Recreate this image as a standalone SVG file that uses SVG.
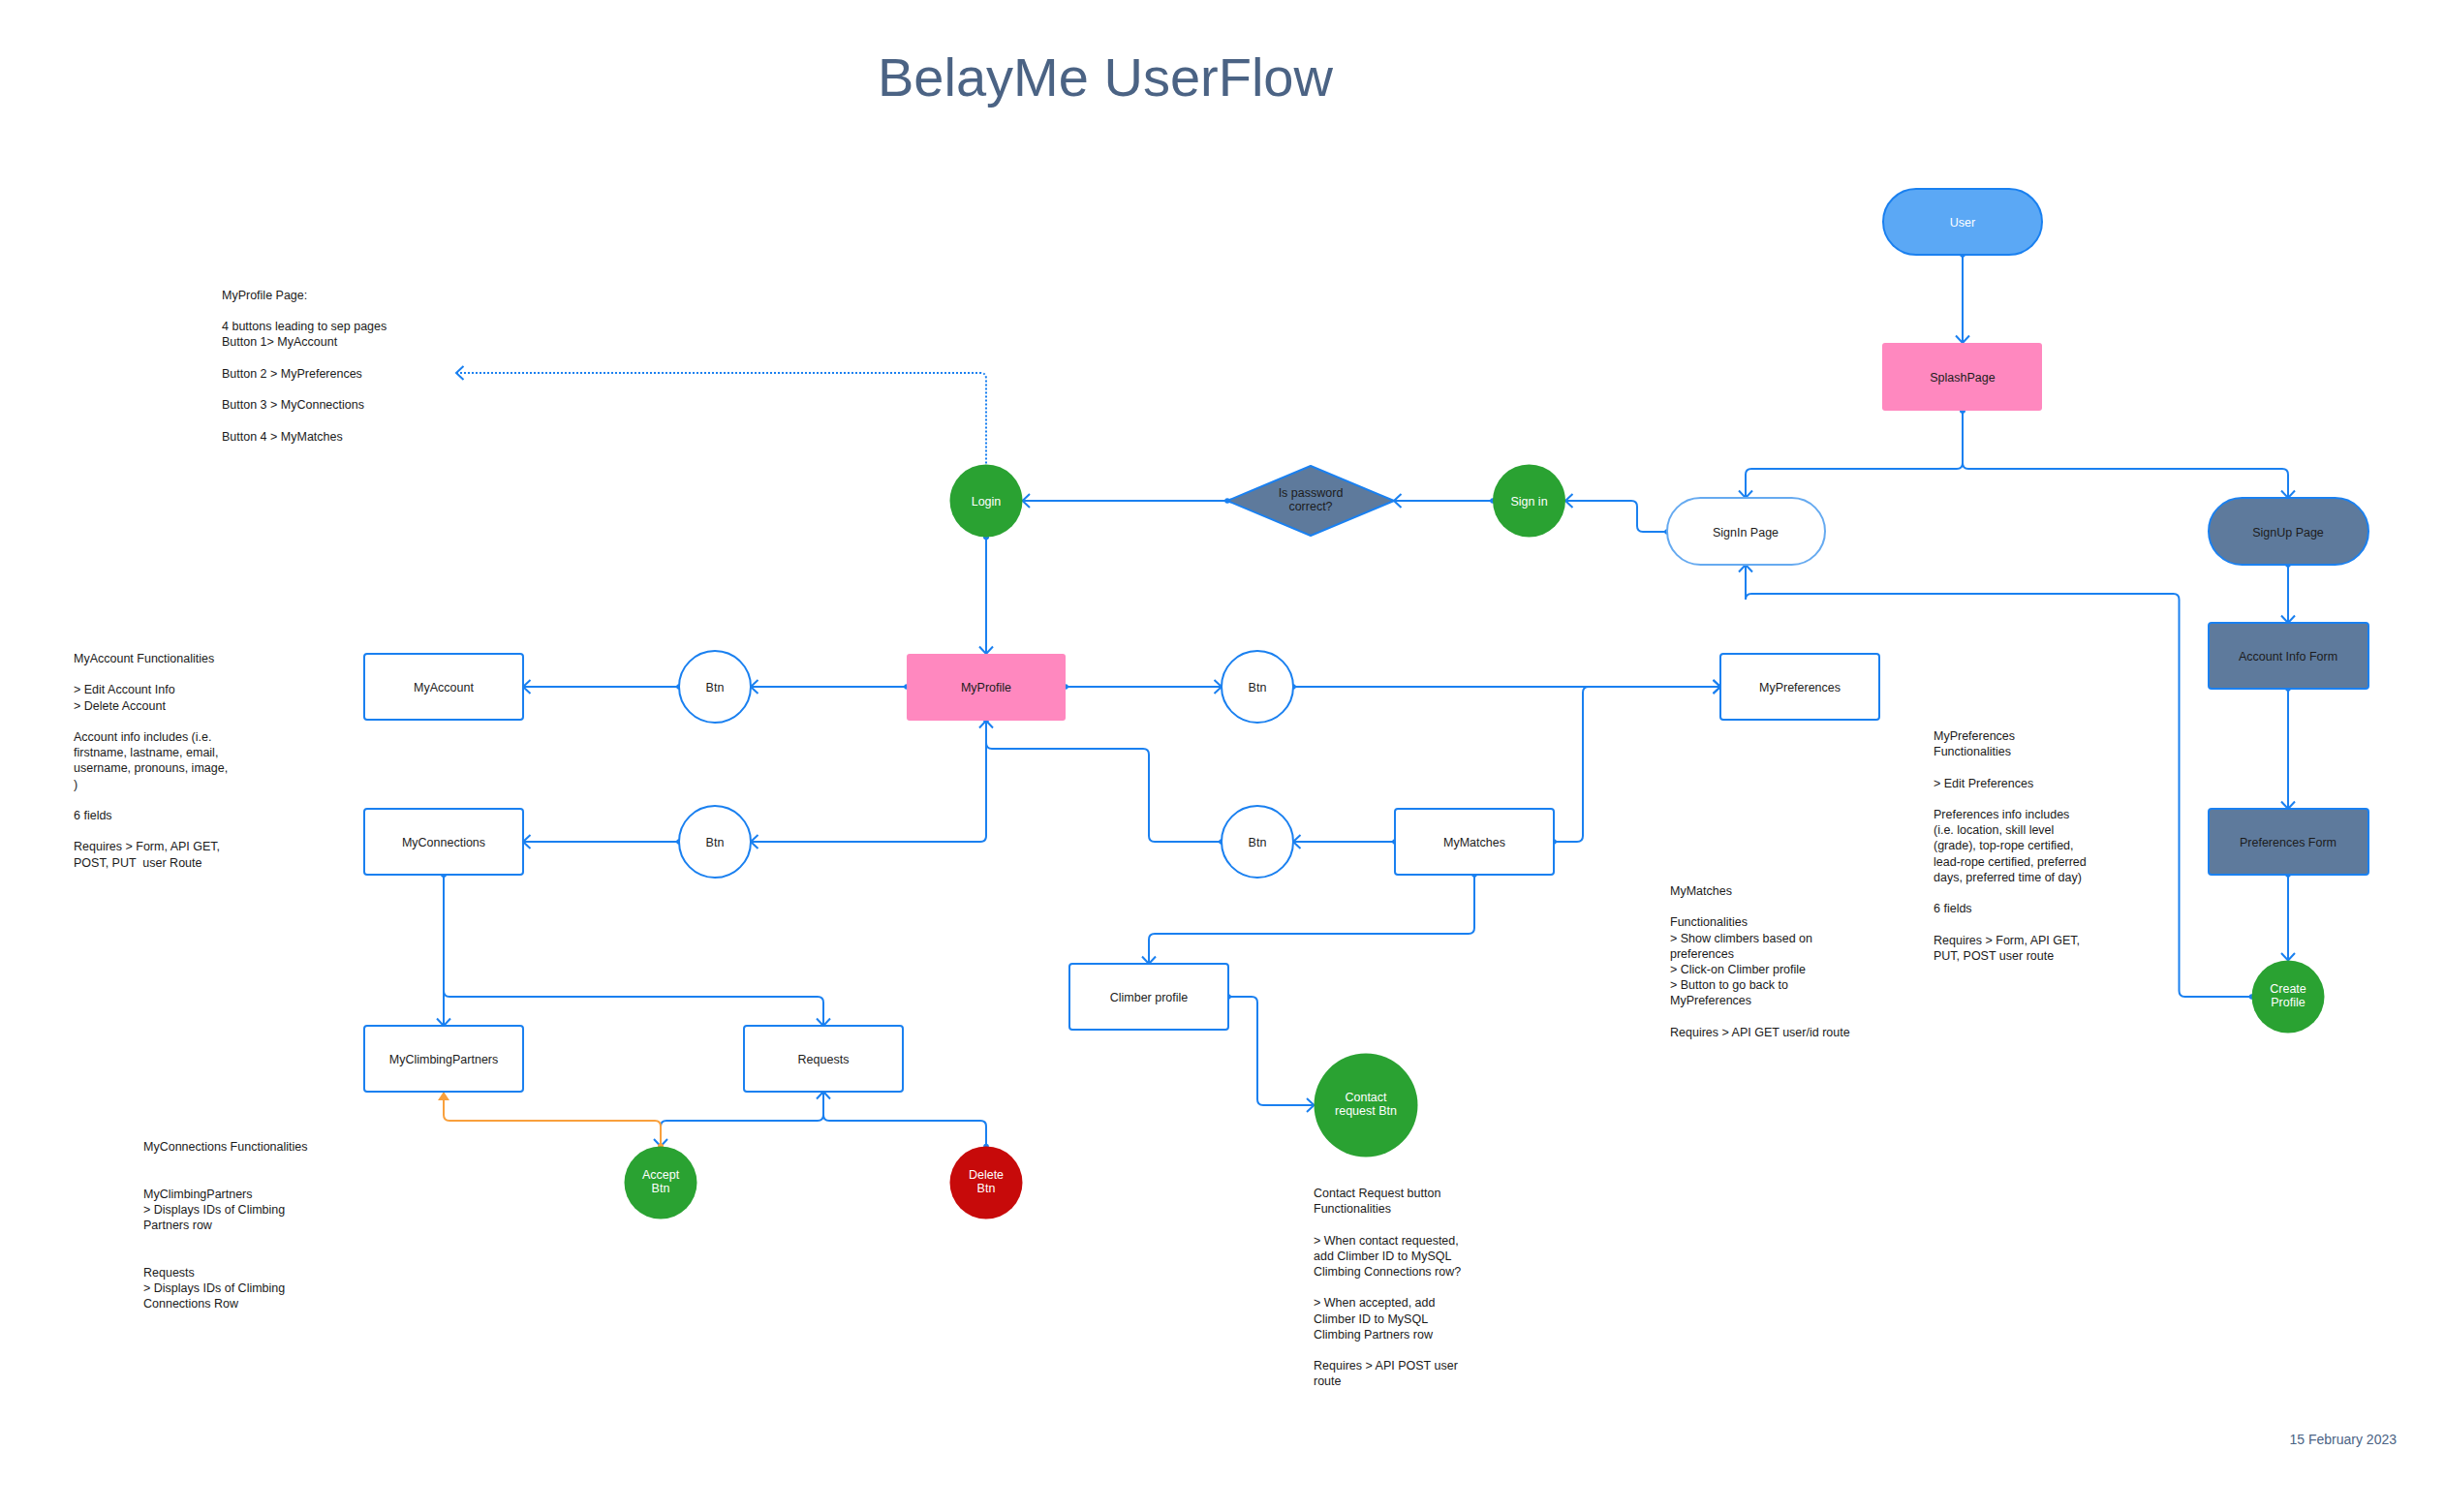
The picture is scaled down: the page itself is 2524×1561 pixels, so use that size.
<svg xmlns="http://www.w3.org/2000/svg" width="2524" height="1561" viewBox="0 0 2524 1561">
<style>
  text { font-family: "Liberation Sans", Arial, Helvetica, sans-serif; font-size: 12.5px; fill: #1c1c1c; }
  .c { text-anchor: middle; }
  .w { fill: #ffffff; }
  .note { fill: #1a1a1a; }
  .title { font-size: 56px; fill: #4b6384; }
  .date { font-size: 14px; fill: #4b6384; text-anchor: end; }
  .box { fill: #ffffff; stroke: #1a80f0; stroke-width: 2; }
  .pink { fill: #ff88bf; }
  .slate { fill: #5e7a9c; stroke: #1a80f0; stroke-width: 2; }
  .green { fill: #2aa232; }
  .red { fill: #c70a0a; }
  .conn path { fill: none; stroke: #1a80f0; stroke-width: 2; marker-start: url(#dot); marker-end: url(#arr); }
  .conn path.dotted { stroke-dasharray: 2 2; }
  .conn path.orange { stroke: #f9a03c; marker-start: url(#dotO); marker-end: url(#arrO); }
</style>
<defs>
  <marker id="arr" markerUnits="userSpaceOnUse" markerWidth="20" markerHeight="20" viewBox="0 0 20 20" refX="10" refY="10" orient="auto" overflow="visible">
    <path d="M2.5 3 L10 10 L2.5 17" fill="none" stroke="#1a80f0" stroke-width="2"/>
  </marker>
  <marker id="dot" markerUnits="userSpaceOnUse" markerWidth="10" markerHeight="10" viewBox="0 0 10 10" refX="5" refY="5" orient="auto">
    <circle cx="5" cy="5" r="2.8" fill="#1a80f0"/>
  </marker>
  <marker id="arrO" markerUnits="userSpaceOnUse" markerWidth="20" markerHeight="20" viewBox="0 0 20 20" refX="10" refY="10" orient="auto" overflow="visible">
    <path d="M1 4 L10 10 L1 16 Z" fill="#f9a03c"/>
  </marker>
  <marker id="dotO" markerUnits="userSpaceOnUse" markerWidth="10" markerHeight="10" viewBox="0 0 10 10" refX="5" refY="5" orient="auto">
    <circle cx="5" cy="5" r="3" fill="#f9a03c"/>
  </marker>
</defs>
<rect width="2524" height="1561" fill="#ffffff"/>

<text class="title" x="906" y="99">BelayMe UserFlow</text>
<text class="date" x="2474" y="1491">15 February 2023</text>

<g id="connectors" class="conn">
  <path d="M2026 263 V354"/>
  <path d="M2026 424 V478 Q2026 484 2020 484 H1808 Q1802 484 1802 490 V514"/>
  <path d="M2026 424 V478 Q2026 484 2032 484 H2356 Q2362 484 2362 490 V514"/>
  <path d="M1721 549 H1696 Q1690 549 1690 543 V523 Q1690 517 1684 517 H1616"/>
  <path d="M1541 517 H1439"/>
  <path d="M1267 517 H1055.5"/>
  <path d="M1018 554.5 V675"/>
  <path class="dotted" d="M1018 554.5 V391 Q1018 385 1012 385 H471"/>
  <path d="M936 709 H775"/>
  <path d="M701 709 H540"/>
  <path d="M1100 709 H1261"/>
  <path d="M1335 709 H1776"/>
  <path d="M1604 869 H1628 Q1634 869 1634 863 V715 Q1634 709 1640 709 H1776"/>
  <path d="M1440 869 H1335"/>
  <path d="M1261 869 H1192 Q1186 869 1186 863 V779 Q1186 773 1180 773 H1024 Q1018 773 1018 767 V744"/>
  <path d="M1018 744 V863 Q1018 869 1012 869 H775"/>
  <path d="M701 869 H540"/>
  <path d="M458 903 V1059"/>
  <path d="M458 903 V1023 Q458 1029 464 1029 H844 Q850 1029 850 1035 V1059"/>
  <path d="M1522 903 V958 Q1522 964 1516 964 H1192 Q1186 964 1186 970 V995"/>
  <path d="M1268 1029 H1292 Q1298 1029 1298 1035 V1135 Q1298 1141 1304 1141 H1356.5"/>
  <path d="M850 1127 V1151 Q850 1157 844 1157 H688 Q682 1157 682 1163 V1183.5"/>
  <path d="M1018 1183.5 V1163 Q1018 1157 1012 1157 H856 Q850 1157 850 1151 V1127"/>
  <path class="orange" d="M682 1183.5 V1163 Q682 1157 676 1157 H464 Q458 1157 458 1151 V1127"/>
  <path d="M2362 583 V643"/>
  <path d="M2362 711 V835"/>
  <path d="M2362 903 V991.5"/>
  <path d="M2324.5 1029 H2255.5 Q2249.5 1029 2249.5 1023 V619 Q2249.5 613 2243.5 613 H1808 Q1802 613 1802 619 V583"/>
</g>

<g id="user">
  <rect x="1944" y="195" width="164" height="68" rx="34" fill="#5ba8f5" stroke="#1a80f0" stroke-width="2"/>
  <text class="c w" x="2026" y="233.5">User</text>
</g>
<g id="splashpage">
  <rect class="pink" x="1943" y="354" width="165" height="70" rx="3"/>
  <text class="c" x="2026" y="393.5">SplashPage</text>
</g>
<g id="signin-page">
  <rect x="1721" y="514" width="163" height="69" rx="34.5" fill="#ffffff" stroke="#66aaf0" stroke-width="2"/>
  <text class="c" x="1802" y="553.5">SignIn Page</text>
</g>
<g id="signup-page">
  <rect class="slate" x="2280" y="514" width="165" height="69" rx="34.5"/>
  <text class="c" x="2362" y="553.5">SignUp Page</text>
</g>
<g id="account-info-form">
  <rect class="slate" x="2280" y="643" width="165" height="68" rx="3"/>
  <text class="c" x="2362" y="681.5">Account Info Form</text>
</g>
<g id="preferences-form">
  <rect class="slate" x="2280" y="835" width="165" height="68" rx="3"/>
  <text class="c" x="2362" y="873.5">Preferences Form</text>
</g>
<g id="create-profile">
  <circle class="green" cx="2362" cy="1029" r="37.5"/>
  <text class="c w" x="2362" y="1025">Create</text>
  <text class="c w" x="2362" y="1039">Profile</text>
</g>
<g id="sign-in">
  <circle class="green" cx="1578.5" cy="517" r="37.5"/>
  <text class="c w" x="1578.5" y="521.5">Sign in</text>
</g>
<g id="password-check">
  <polygon points="1267,517 1353,481 1439,517 1353,553" fill="#5e7a9c" stroke="#1a80f0" stroke-width="2" stroke-linejoin="round"/>
  <text class="c" x="1353" y="513">Is password</text>
  <text class="c" x="1353" y="526.5">correct?</text>
</g>
<g id="login">
  <circle class="green" cx="1018" cy="517" r="37.5"/>
  <text class="c w" x="1018" y="521.5">Login</text>
</g>
<g id="myprofile">
  <rect class="pink" x="936" y="675" width="164" height="69" rx="3"/>
  <text class="c" x="1018" y="713.5">MyProfile</text>
</g>
<g id="btn-preferences">
  <circle class="box" cx="1298" cy="709" r="37"/>
  <text class="c" x="1298" y="713.5">Btn</text>
</g>
<g id="mypreferences">
  <rect class="box" x="1776" y="675" width="164" height="68" rx="3"/>
  <text class="c" x="1858" y="713.5">MyPreferences</text>
</g>
<g id="btn-account">
  <circle class="box" cx="738" cy="709" r="37"/>
  <text class="c" x="738" y="713.5">Btn</text>
</g>
<g id="myaccount">
  <rect class="box" x="376" y="675" width="164" height="68" rx="3"/>
  <text class="c" x="458" y="713.5">MyAccount</text>
</g>
<g id="btn-connections">
  <circle class="box" cx="738" cy="869" r="37"/>
  <text class="c" x="738" y="873.5">Btn</text>
</g>
<g id="myconnections">
  <rect class="box" x="376" y="835" width="164" height="68" rx="3"/>
  <text class="c" x="458" y="873.5">MyConnections</text>
</g>
<g id="btn-matches">
  <circle class="box" cx="1298" cy="869" r="37"/>
  <text class="c" x="1298" y="873.5">Btn</text>
</g>
<g id="mymatches">
  <rect class="box" x="1440" y="835" width="164" height="68" rx="3"/>
  <text class="c" x="1522" y="873.5">MyMatches</text>
</g>
<g id="climber-profile">
  <rect class="box" x="1104" y="995" width="164" height="68" rx="3"/>
  <text class="c" x="1186" y="1033.5">Climber profile</text>
</g>
<g id="contact-request-btn">
  <circle class="green" cx="1410" cy="1141" r="53.5"/>
  <text class="c w" x="1410" y="1137">Contact</text>
  <text class="c w" x="1410" y="1151">request Btn</text>
</g>
<g id="myclimbingpartners">
  <rect class="box" x="376" y="1059" width="164" height="68" rx="3"/>
  <text class="c" x="458" y="1097.5">MyClimbingPartners</text>
</g>
<g id="requests">
  <rect class="box" x="768" y="1059" width="164" height="68" rx="3"/>
  <text class="c" x="850" y="1097.5">Requests</text>
</g>
<g id="accept-btn">
  <circle class="green" cx="682" cy="1221" r="37.5"/>
  <text class="c w" x="682" y="1217">Accept</text>
  <text class="c w" x="682" y="1231">Btn</text>
</g>
<g id="delete-btn">
  <circle class="red" cx="1018" cy="1221" r="37.5"/>
  <text class="c w" x="1018" y="1217">Delete</text>
  <text class="c w" x="1018" y="1231">Btn</text>
</g>

<g id="notes">
  <text class="note" x="229" y="308.7">MyProfile Page:</text>
  <text class="note" x="229" y="341.1">4 buttons leading to sep pages</text>
  <text class="note" x="229" y="357.3">Button 1&gt; MyAccount</text>
  <text class="note" x="229" y="389.7">Button 2 &gt; MyPreferences</text>
  <text class="note" x="229" y="422.1">Button 3 &gt; MyConnections</text>
  <text class="note" x="229" y="454.5">Button 4 &gt; MyMatches</text>

  <text class="note" x="76" y="684">MyAccount Functionalities</text>
  <text class="note" x="76" y="716.4">&gt; Edit Account Info</text>
  <text class="note" x="76" y="732.6">&gt; Delete Account</text>
  <text class="note" x="76" y="765">Account info includes (i.e.</text>
  <text class="note" x="76" y="781.2">firstname, lastname, email,</text>
  <text class="note" x="76" y="797.4">username, pronouns, image,</text>
  <text class="note" x="76" y="813.6">)</text>
  <text class="note" x="76" y="846">6 fields</text>
  <text class="note" x="76" y="878.4">Requires &gt; Form, API GET,</text>
  <text class="note" x="76" y="894.6" xml:space="preserve">POST, PUT  user Route</text>

  <text class="note" x="148" y="1188">MyConnections Functionalities</text>
  <text class="note" x="148" y="1236.6">MyClimbingPartners</text>
  <text class="note" x="148" y="1252.8">&gt; Displays IDs of Climbing</text>
  <text class="note" x="148" y="1269">Partners row</text>
  <text class="note" x="148" y="1317.6">Requests</text>
  <text class="note" x="148" y="1333.8">&gt; Displays IDs of Climbing</text>
  <text class="note" x="148" y="1350">Connections Row</text>

  <text class="note" x="1996" y="764">MyPreferences</text>
  <text class="note" x="1996" y="780.2">Functionalities</text>
  <text class="note" x="1996" y="812.6">&gt; Edit Preferences</text>
  <text class="note" x="1996" y="845">Preferences info includes</text>
  <text class="note" x="1996" y="861.2">(i.e. location, skill level</text>
  <text class="note" x="1996" y="877.4">(grade), top-rope certified,</text>
  <text class="note" x="1996" y="893.6">lead-rope certified, preferred</text>
  <text class="note" x="1996" y="909.8">days, preferred time of day)</text>
  <text class="note" x="1996" y="942.2">6 fields</text>
  <text class="note" x="1996" y="974.6">Requires &gt; Form, API GET,</text>
  <text class="note" x="1996" y="990.8">PUT, POST user route</text>

  <text class="note" x="1724" y="924">MyMatches</text>
  <text class="note" x="1724" y="956.4">Functionalities</text>
  <text class="note" x="1724" y="972.6">&gt; Show climbers based on</text>
  <text class="note" x="1724" y="988.8">preferences</text>
  <text class="note" x="1724" y="1005">&gt; Click-on Climber profile</text>
  <text class="note" x="1724" y="1021.2">&gt; Button to go back to</text>
  <text class="note" x="1724" y="1037.4">MyPreferences</text>
  <text class="note" x="1724" y="1069.8">Requires &gt; API GET user/id route</text>

  <text class="note" x="1356" y="1236">Contact Request button</text>
  <text class="note" x="1356" y="1252.2">Functionalities</text>
  <text class="note" x="1356" y="1284.6">&gt; When contact requested,</text>
  <text class="note" x="1356" y="1300.8">add Climber ID to MySQL</text>
  <text class="note" x="1356" y="1317">Climbing Connections row?</text>
  <text class="note" x="1356" y="1349.4">&gt; When accepted, add</text>
  <text class="note" x="1356" y="1365.6">Climber ID to MySQL</text>
  <text class="note" x="1356" y="1381.8">Climbing Partners row</text>
  <text class="note" x="1356" y="1414.2">Requires &gt; API POST user</text>
  <text class="note" x="1356" y="1430.4">route</text>
</g>
</svg>
